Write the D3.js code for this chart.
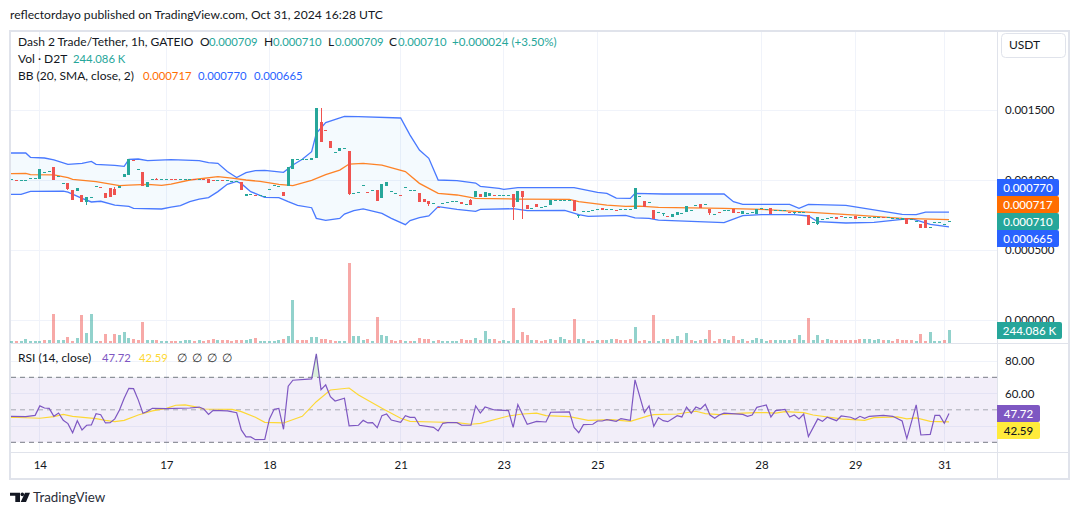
<!DOCTYPE html>
<html><head><meta charset="utf-8">
<script src="https://cdn.jsdelivr.net/npm/d3@7"></script>
<style>
html,body{margin:0;padding:0;background:#fff;overflow:hidden}
text{font-family:"Lato","Noto Sans",sans-serif;font-size:12px;fill:#131722}
</style></head><body><svg id="c" width="1080" height="515"></svg>
<script>
// prices in millionths of USDT
const opens=[1005,1003,1002,998,1012,1012,1007,1055,1062,1093,
1031,976,979,929,922,893,843,876,955,948,
907,943,936,943,1021,1036,1146,1076,1057,950,
1005,1006,1005,1005,1006,1006,1005,1005,1005,1006,
1005,1006,1007,998,997,998,997,990,990,986,
888,898,891,890,888,933,962,959,914,959,
1081,1148,1148,1148,1143,1157,1414,1355,1279,1198,
1207,1226,1207,905,912,964,913,926,929,871,
957,919,910,891,948,926,926,907,862,850,
833,808,833,845,848,848,843,826,857,879,
900,879,888,896,895,895,895,900,843,921,
821,802,829,810,812,821,855,855,855,855,
857,748,781,776,786,790,800,793,793,789,
795,795,793,795,886,850,845,786,769,762,
746,738,750,764,769,783,819,831,829,793,
757,769,783,786,793,769,759,764,769,759,
798,795,800,783,783,786,772,769,774,771,
750,702,688,719,731,733,736,741,733,733,
743,733,733,733,733,733,734,733,731,731,
714,731,724,710,686,714,662,702,702,686,709];
const closes=[1005,1002,1002,998,1012,1012,1079,1055,1062,1000,
1031,976,933,857,943,843,879,876,955,947,
871,879,893,957,1043,1150,1145,1076,957,983,
1005,1005,1005,1005,1005,1005,1005,1005,1005,1005,
1005,1005,981,997,997,997,997,990,990,931,
900,898,890,890,888,933,962,959,886,1090,
1150,1148,1148,1148,1157,1512,1274,1354,1229,1198,
1229,1226,900,905,912,964,912,926,850,971,
986,919,910,890,948,926,926,843,843,829,
833,807,833,845,848,848,829,826,821,921,
879,914,907,895,895,895,895,807,921,881,
790,802,807,810,812,857,855,855,855,855,
776,748,781,776,786,790,786,793,793,788,
795,795,793,943,886,807,845,719,769,762,
745,757,771,764,817,783,819,802,829,762,
757,768,783,786,767,768,776,764,769,790,
798,795,759,783,783,786,771,769,774,771,
681,702,733,719,731,733,721,740,733,733,
724,733,733,733,733,733,733,733,731,731,
726,688,724,710,660,660,662,702,702,686,710];
const wickHighBars=[22,31,66,98];
const wickHighs=[950,1012,1514,864];
const wickLowBars=[12,16,72,89,107,109,121,139,149,167,172];
const wickLows=[929,821,895,817,714,721,729,745,752,755,679];
// volume in thousands
const volumes=[20,20,20,60,20,20,20,40,40,560,
40,40,100,20,80,540,180,560,20,20,
160,20,160,140,200,80,60,40,400,40,
40,40,20,20,20,20,20,40,40,20,
40,20,40,60,40,40,40,20,40,40,
40,60,80,20,20,20,20,40,60,120,
840,40,40,40,100,100,60,60,40,20,
20,20,1580,120,120,40,60,20,500,140,
120,40,20,40,20,20,20,80,60,60,
20,40,20,20,20,20,60,40,40,80,
40,220,60,60,20,40,20,690,40,200,
140,40,40,20,40,70,40,100,60,40,
460,70,60,20,20,40,40,40,60,60,
40,40,60,300,20,40,20,540,20,60,
60,60,120,40,180,40,20,40,60,240,
20,60,60,40,120,40,60,20,40,80,
70,20,40,40,40,40,40,70,140,40,
480,40,140,40,60,40,40,40,40,40,
40,60,60,60,40,70,40,40,20,60,
40,40,40,20,160,20,200,20,20,40,244.086];
const volumeDirs=("grgggggrgr"+"ggrrgrgggr"+"rrrgggrrrg"+"grggrrgggr"+"grrrgrrrrr"+"ggrgggggrg"+"grrrggrrrr"+"ggrgggrgrg"+"grrrgrgrrr"+"grggggrrrg"+"rggrrggrgr"+"rgrrrgrggr"+"rggrrgrggr"+"rrrgrrgrgg"+"rggrgrgrgr"+"rrggrrgrgg"+"ggrggggrgg"+"rggrgrrrrr"+"rrggggrgrr"+"rrrgrrgggr"+"g").split("");
// Bollinger bands
const bbUpperBars=[-1,0,3,4,7,9,12,15,17,18,22,24,25,27,29,34,40,42,44,46,48,50,52,54,58,60,62,64,65,67,71,74,83,85,87,89,91,95,99,100,104,105,108,120,125,127,129,132,133,139,152,154,156,166,168,170,178,190,193,195,200];
const bbUpper=[1193,1193,1193,1162,1157,1143,1112,1119,1133,1112,1105,1098,1148,1150,1138,1145,1138,1124,1119,1060,1017,1052,1067,1069,1055,1107,1148,1202,1333,1410,1455,1452,1443,1321,1214,1155,1000,995,978,955,940,933,945,945,912,905,871,869,905,900,900,845,826,826,798,826,819,755,752,771,770];
const bbLowerBars=[-1,0,2,4,11,12,15,17,19,22,25,26,32,34,36,38,40,42,44,46,48,49,51,54,57,59,61,64,65,67,70,71,73,75,79,81,84,85,87,89,91,95,99,100,107,110,118,121,123,131,133,136,138,152,154,156,160,167,170,172,178,184,190,192,196,200];
const bbLower=[898,898,898,919,921,914,869,843,848,821,812,798,793,807,817,845,864,874,917,969,990,974,917,876,874,845,819,802,726,712,726,757,781,793,762,726,681,710,731,743,810,790,776,790,795,781,783,752,740,748,729,726,714,695,721,745,752,752,743,702,693,698,719,724,683,665];
const bbMidBars=[-1,0,3,4,9,12,13,18,23,25,29,32,34,38,44,47,50,53,57,60,64,67,70,72,75,79,84,87,91,95,99,108,119,121,127,131,134,138,152,160,168,181,190,200];
const bbMid=[1045,1045,1048,1038,1036,1017,1005,988,960,964,969,962,971,1000,1024,1014,1000,990,969,960,998,1038,1071,1114,1119,1107,1060,976,905,893,869,864,862,845,821,812,814,805,798,790,774,748,726,717];
// RSI
const rsiBars=[-1,0,3,5,6,7,8,9,10,11,12,13,14,15,16,17,18,19,20,21,22,23,24,25,26,27,28,29,30,33,38,40,41,42,43,46,48,49,50,51,52,54,55,56,57,58,59,60,64,65,66,67,68,69,71,72,74,75,76,77,78,79,80,81,83,84,85,86,87,90,91,92,93,95,96,98,99,100,101,103,106,107,108,110,112,114,115,119,120,121,122,124,125,126,127,129,130,132,133,135,136,137,138,139,140,142,143,144,145,146,147,148,149,150,151,152,156,157,158,159,161,162,163,165,166,167,168,169,170,172,173,174,176,177,179,180,181,182,183,186,188,190,191,193,194,196,197,198,199,200];
const rsiValues=[46.0,46.0,45.8,46.6,52.4,51.1,50.9,46.0,48.0,43.5,41.5,35.9,43.3,37.6,40.5,40.7,47.6,47.0,41.9,42.1,44.4,49.9,57.1,63.2,63.0,56.1,47.9,49.1,50.9,50.7,51.1,51.7,50.5,47.2,49.7,49.3,48.2,37.6,33.3,33.3,31.6,31.8,44.4,50.3,50.9,38.0,64.5,68.2,69.0,84.4,62.4,65.3,58.1,55.4,57.1,40.1,40.5,43.5,41.9,42.1,39.0,46.4,47.4,43.7,42.3,46.4,45.4,45.4,40.5,39.2,37.0,41.7,42.1,42.1,40.5,40.5,52.4,48.0,51.7,49.9,49.5,39.2,53.2,41.1,42.9,42.5,48.5,48.7,39.2,35.9,40.9,41.1,43.1,43.1,43.9,42.9,44.6,43.5,68.4,48.3,52.4,39.8,45.2,43.3,42.7,46.4,45.6,51.7,47.9,51.7,50.5,53.4,46.8,44.8,46.8,47.9,47.2,46.0,46.8,51.5,53.0,45.6,49.5,50.3,45.6,46.8,44.4,47.4,33.5,44.4,42.9,45.4,43.3,46.2,45.4,44.2,46.0,44.8,46.0,46.6,46.0,43.1,32.3,53.0,34.5,34.9,46.6,46.6,41.7,47.72];
const rsiMaBars=[-1,0,6,9,11,13,18,20,22,24,27,30,33,35,37,39,41,47,49,52,54,58,62,65,68,72,74,79,83,85,90,95,98,100,106,109,112,114,119,123,128,132,136,137,142,146,148,151,156,159,161,163,165,169,171,177,182,184,189,191,193,196,200];
const rsiMa=[45.4,45.4,44.8,45.8,47.2,46.0,44.6,43.5,42.7,43.5,46.8,49.3,50.9,52.8,53.0,52.0,50.5,50.3,48.9,45.4,42.3,41.9,46.0,55.0,62.2,63.4,59.1,50.9,44.8,42.9,42.5,42.1,41.1,41.7,46.2,47.4,47.9,46.4,45.8,43.5,43.9,42.9,46.4,47.0,47.4,49.1,47.6,47.0,47.9,48.3,48.3,47.9,48.9,48.3,46.8,44.4,43.5,45.2,45.6,44.4,45.0,42.9,42.59];
// axes labels
const timeBars=[6,33,55,83,105,125,160,180,199];
const timeLabels=["14","17","18","21","23","25","28","29","31"];
const priceTicks=[1500,1000,500,0];
const rsiTicks=[80,60,40];
const rsiLevels=[70,50,30];
const priceTags=[["0.000770",770,"#2962ff"],["0.000717",717,"#ff6d00"],["0.000710",710,"#26a69a"],["0.000665",665,"#2962ff"]];

const UP="#26a69a",DOWN="#ef5350",GRID="#f0f3fa",BORDER="#e0e3eb";
const svg=d3.select("#c");
const x=d3.scaleLinear().domain([0,200]).range([11.7,949]);
const yP=d3.scaleLinear().domain([0,1500]).range([320,110]);
const yV=d3.scaleLinear().domain([0,1580]).range([342.5,263]);
const yR=d3.scaleLinear().domain([30,70]).range([442.3,377.3]);
const px=v=>Math.floor(v);

svg.append("defs").append("clipPath").attr("id","cm").append("rect").attr("x",11).attr("y",32).attr("width",986).attr("height",310);
svg.select("defs").append("clipPath").attr("id","cr").append("rect").attr("x",11).attr("y",343).attr("width",986).attr("height",108);
svg.select("defs").append("clipPath").attr("id","ob").append("rect").attr("x",11).attr("y",343).attr("width",986).attr("height",yR(70)-343);

// frame
svg.append("rect").attr("x",10).attr("y",31).attr("width",1059).attr("height",448).attr("fill","none").attr("stroke",BORDER).attr("stroke-width",2);

// grid
const grid=svg.append("g").attr("stroke",GRID).attr("stroke-width",1).attr("shape-rendering","crispEdges");
priceTicks.forEach(t=>grid.append("line").attr("x1",11).attr("x2",997).attr("y1",yP(t)+0.5).attr("y2",yP(t)+0.5));
rsiTicks.forEach(t=>grid.append("line").attr("x1",11).attr("x2",997).attr("y1",Math.floor(yR(t))+0.5).attr("y2",Math.floor(yR(t))+0.5));
timeBars.forEach(b=>grid.append("line").attr("x1",px(x(b))+0.5).attr("x2",px(x(b))+0.5).attr("y1",32).attr("y2",451));

// pane separators
const sep=svg.append("g").attr("stroke",BORDER).attr("shape-rendering","crispEdges");
sep.append("line").attr("x1",11).attr("x2",1069).attr("y1",343).attr("y2",343);
sep.append("line").attr("x1",11).attr("x2",1069).attr("y1",452).attr("y2",452);
sep.append("line").attr("x1",997).attr("x2",997).attr("y1",32).attr("y2",479);

// volume
svg.append("g").attr("shape-rendering","crispEdges").selectAll("rect").data(volumes).join("rect")
 .attr("x",(d,i)=>px(x(i))-1).attr("width",3)
 .attr("y",d=>Math.round(yV(d))).attr("height",d=>Math.max(1,342.5-Math.round(yV(d))))
 .attr("fill",(d,i)=>volumeDirs[i]==="g"?UP:DOWN).attr("opacity",0.5);

// Bollinger bands
const main=svg.append("g").attr("clip-path","url(#cm)");
const pts=(bars,vals,sc)=>bars.map((b,i)=>[x(b),sc(vals[i])]);
const lineGen=d3.line();
const upPts=pts(bbUpperBars,bbUpper,yP),loPts=pts(bbLowerBars,bbLower,yP);
main.append("path").attr("d",lineGen(upPts.concat(loPts.slice().reverse()))+"Z").attr("fill","#2196f3").attr("fill-opacity",0.05);
[[upPts,"#2962ff"],[loPts,"#2962ff"],[pts(bbMidBars,bbMid,yP),"#ff6d00"]].forEach(([p,c])=>
 main.append("path").attr("d",lineGen(p)).attr("fill","none").attr("stroke",c).attr("stroke-width",1.3).attr("stroke-opacity",0.85));

// candles
const bars=d3.range(opens.length).map(i=>{
 const o=opens[i],c=closes[i];
 const hi=wickHighBars.indexOf(i),lo=wickLowBars.indexOf(i);
 return {i,o,c,h:hi>=0?wickHighs[hi]:Math.max(o,c),l:lo>=0?wickLows[lo]:Math.min(o,c)};
});
const cg=main.append("g").attr("shape-rendering","crispEdges");
const col=d=>d.c>=d.o?UP:DOWN;
cg.selectAll("line").data(bars.filter(d=>d.h>Math.max(d.o,d.c)||d.l<Math.min(d.o,d.c))).join("line")
 .attr("x1",d=>px(x(d.i))+0.5).attr("x2",d=>px(x(d.i))+0.5).attr("y1",d=>yP(d.h)).attr("y2",d=>yP(d.l)).attr("stroke",d=>col(d));
cg.selectAll("rect").data(bars).join("rect")
 .attr("x",d=>px(x(d.i))-1).attr("width",3)
 .attr("y",d=>Math.round(yP(Math.max(d.o,d.c))))
 .attr("height",d=>Math.max(1,Math.round(yP(Math.min(d.o,d.c)))-Math.round(yP(Math.max(d.o,d.c)))))
 .attr("fill",d=>col(d));

// RSI pane
const rp=svg.append("g").attr("clip-path","url(#cr)");
rp.append("rect").attr("x",11).attr("width",986).attr("y",yR(70)).attr("height",yR(30)-yR(70)).attr("fill","#7e57c2").attr("fill-opacity",0.1);
rsiLevels.forEach(l=>rp.append("line").attr("x1",11).attr("x2",997).attr("y1",yR(l)).attr("y2",yR(l))
 .attr("stroke","#787b86").attr("stroke-opacity",l===50?0.6:1).attr("stroke-dasharray","5 4"));
const rPts=pts(rsiBars,rsiValues,yR);
svg.append("path").attr("clip-path","url(#ob)")
 .attr("d",d3.area().y0(yR(70))(rPts)).attr("fill","#4caf50").attr("fill-opacity",0.2);
rp.append("path").attr("d",lineGen(pts(rsiMaBars,rsiMa,yR))).attr("fill","none").attr("stroke","#fdd835").attr("stroke-width",1.2);
rp.append("path").attr("d",lineGen(rPts)).attr("fill","none").attr("stroke","#7e57c2").attr("stroke-width",1.2);

// axes
const FONT='"Lato","Noto Sans",sans-serif';
const noLines=g=>{g.select(".domain").remove();g.selectAll(".tick line").remove();g.selectAll("text").style("fill","#131722").style("font-family",FONT).style("font-size","11.5px");};
svg.append("g").attr("transform","translate(0,452)")
 .call(d3.axisBottom(x).tickValues(timeBars).tickFormat((d,i)=>timeLabels[i]).tickSize(0).tickPadding(9)).call(noLines);
svg.append("g").attr("transform","translate(997,0)")
 .call(d3.axisRight(yP).tickValues(priceTicks).tickFormat(d=>(d/1e6).toFixed(6)).tickSize(0).tickPadding(8)).call(noLines);
svg.append("g").attr("transform","translate(997,0)")
 .call(d3.axisRight(yR).tickValues([80,60]).tickFormat(d=>d.toFixed(2)).tickSize(0).tickPadding(8)).call(noLines);

// value tags
const tag=(label,y0,w,fill,txt)=>{
 svg.append("path").attr("d",`M997 ${y0}H${997+w-2}q2 0 2 2V${y0+15}q0 2 -2 2H997Z`).attr("fill",fill);
 svg.append("text").attr("x",997+w/2).attr("y",y0+13).attr("text-anchor","middle").style("fill",txt).style("font-weight",500).style("font-size","11.5px").text(label);
};
priceTags.forEach((t,i)=>tag(t[0],179+i*17,62,t[2],"#fff"));
tag("244.086 K",322,65,UP,"#fff");
tag("47.72",405,43,"#7e57c2","#fff");
tag("42.59",422,43,"#ffeb3b","#131722");

// USDT button
svg.append("rect").attr("x",1001.5).attr("y",33.5).attr("width",64).attr("height",24).attr("rx",4).attr("fill","#fff").attr("stroke",BORDER);
svg.append("text").attr("x",1009).attr("y",49).text("USDT");

// header and legends
const put=(t,xx,yy,c,fs)=>svg.append("text").attr("x",xx).attr("y",yy).style("fill",c||"#131722").style("font-size",(fs||12)+"px").text(t);
const NUM=11.3;
put("reflectordayo published on TradingView.com, Oct 31, 2024 16:28 UTC",10,19,null,12.12);
put("Dash 2 Trade/Tether, 1h, GATEIO",18,46);
[["O","0.000709",200],["H","0.000710",264],["L","0.000709",328],["C","0.000710",389]].forEach(([k,v,xx])=>{
 put(k,xx,46);put(v,xx+(k==="L"?7:9),46,UP,NUM);
});
put("+0.000024 (+3.50%)",452,46,UP,NUM+0.3);
put("Vol · D2T",18,63);put("244.086 K",73,63,UP,NUM);
put("BB (20, SMA, close, 2)",18,80);
put("0.000717",143,80,"#ff6d00",NUM);put("0.000770",198,80,"#2962ff",NUM);put("0.000665",254,80,"#2962ff",NUM);
put("RSI (14, close)",18,362);put("47.72",102,362,"#7e57c2",NUM);put("42.59",139,362,"#fdd835",NUM);
[177,192,207,222].forEach(xx=>put("∅",xx,362,"#333"));

// footer logo
svg.append("path").attr("d","M10 492.7h10v9.3h-4.7v-6.3h-5.3zM25 492.7h5l-4 9.3h-5.3z").attr("fill","#131722");
svg.append("circle").attr("cx",22.3).attr("cy",494.4).attr("r",1.8).attr("fill","#131722");
svg.append("text").attr("x",33).attr("y",502).style("font-size","13.4px").style("fill","#2a2e39").text("TradingView");
</script></body></html>
